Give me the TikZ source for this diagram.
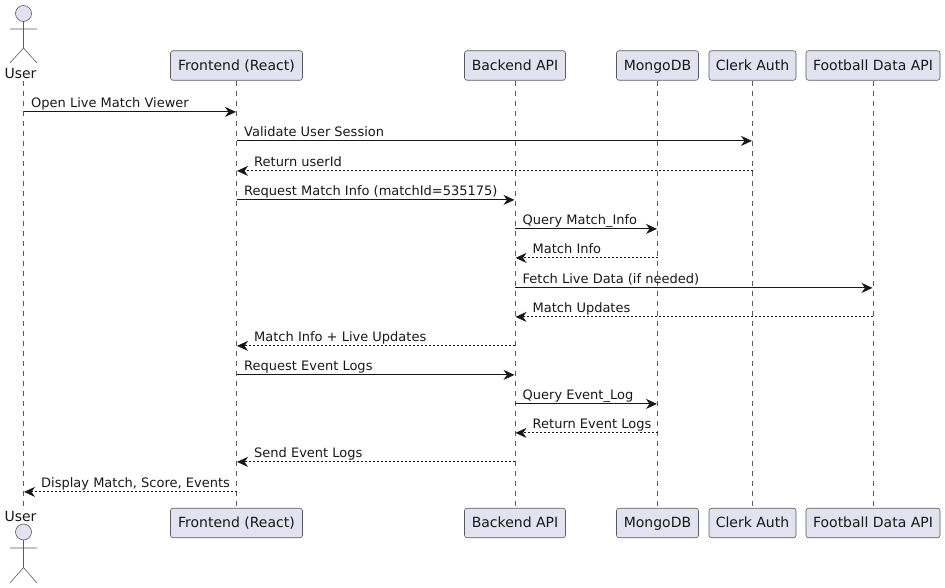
\documentclass[tikz,border=0pt]{standalone}
\usepackage{fontspec}
\setmainfont{DejaVu Sans}
\usetikzlibrary{arrows.meta}
\definecolor{boxfill}{HTML}{E2E2F0}
\definecolor{boxline}{HTML}{5B5B5B}
\definecolor{msgline}{HTML}{181818}
\tikzset{
    part/.style={draw=boxline, fill=boxfill, rounded corners=2.5pt, line width=0.6pt, minimum height=29.5pt, inner sep=0pt, text height=11pt, text depth=1.5pt, font=\fontsize{14}{16}\selectfont, text=msgline},
    actorline/.style={draw=boxline, line width=0.6pt},
    life/.style={draw=boxline, line width=0.6pt, dash pattern=on 5pt off 5pt},
    call/.style={draw=msgline, line width=0.9pt, -{Stealth[length=11pt, width=10pt, inset=3.5pt]}},
    back/.style={call, dash pattern=on 2pt off 2pt},
    lbl/.style={font=\fontsize{13}{15}\selectfont, text=msgline, inner sep=0pt, anchor=base west},
    who/.style={font=\fontsize{14}{16}\selectfont, text=msgline, inner sep=0pt}
}
\begin{document}
\begin{tikzpicture}[x=1pt, y=-1pt]
    \useasboundingbox (0,0) rectangle (945,588);
    % Lifelines end at the lower row of boxes
    \coordinate (userTop) at (23.5,81);
    \coordinate (userBot) at (23.5,507);
    \node[part, minimum width=132pt] (frontTop) at (236.5,65.5) {Frontend (React)};
    \node[part, minimum width=101pt] (backTop) at (515,65.5) {Backend API};
    \node[part, minimum width=82pt] (mongoTop) at (657.5,65.5) {MongoDB};
    \node[part, minimum width=87pt] (clerkTop) at (752.5,65.5) {Clerk Auth};
    \node[part, minimum width=134pt] (footTop) at (873,65.5) {Football Data API};
    \node[part, minimum width=132pt] (frontBot) at (236.5,523) {Frontend (React)};
    \node[part, minimum width=101pt] (backBot) at (515,523) {Backend API};
    \node[part, minimum width=82pt] (mongoBot) at (657.5,523) {MongoDB};
    \node[part, minimum width=87pt] (clerkBot) at (752.5,523) {Clerk Auth};
    \node[part, minimum width=134pt] (footBot) at (873,523) {Football Data API};
    % Draw the lifelines
    \draw[life] (userTop) -- (userBot);
    \foreach \n in {front,back,mongo,clerk,foot}
        \draw[life] (\n Top) -- (\n Bot);
    % Draw the actor, top and bottom
    \node[who] (userName) at (20.5,73.5) {User};
    \node[who] (userNameB) at (20.5,516.5) {User};
    \draw[actorline, fill=boxfill] (23.5,13.5) circle (8);
    \draw[actorline] (23.5,21.5) -- (23.5,48) (10,29) -- (37,29) (10,63) -- (23.5,48) -- (37,63);
    \draw[actorline, fill=boxfill] (23.5,532) circle (8);
    \draw[actorline] (23.5,540) -- (23.5,567.5) (10,548) -- (37,548) (10,583) -- (23.5,567.5) -- (37,583);
    % Requests, labelled from their tail
    \foreach \y/\a/\b/\txt in {
        112/userTop/frontTop/Open Live Match Viewer,
        141/frontTop/clerkTop/Validate User Session,
        200/frontTop/backTop/{Request Match Info (matchId=535175)},
        229/backTop/mongoTop/Query Match\_Info,
        288/backTop/footTop/{Fetch Live Data (if needed)},
        375/frontTop/backTop/Request Event Logs,
        404/backTop/mongoTop/Query Event\_Log
    } {
        \draw[call] (\a |- 0,\y-0.1) -- ([xshift=-0.5pt]\b |- 0,\y-0.1);
        \node[lbl] (msg\y) at ([xshift=7.5pt]\a |- 0,\y-4.4) {\txt};
    }
    % Replies, labelled from their head
    \foreach \y/\a/\b/\txt in {
        171/clerkTop/frontTop/Return userId,
        258/mongoTop/backTop/Match Info,
        317/footTop/backTop/Match Updates,
        346/backTop/frontTop/{Match Info + Live Updates},
        433/mongoTop/backTop/Return Event Logs,
        462/backTop/frontTop/Send Event Logs,
        492/frontTop/userTop/{Display Match, Score, Events}
    } {
        \draw[back] (\a |- 0,\y-0.1) -- ([xshift=0.5pt]\b |- 0,\y-0.1);
        \node[lbl] (msg\y) at ([xshift=17.5pt]\b |- 0,\y-4.4) {\txt};
    }
\end{tikzpicture}
\end{document}
